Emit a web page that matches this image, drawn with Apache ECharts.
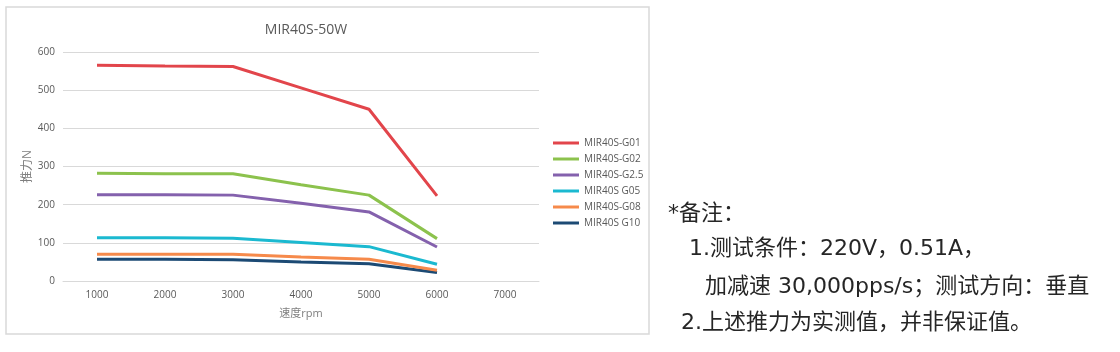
<!DOCTYPE html>
<html>
<head>
<meta charset="utf-8">
<script src="https://cdn.jsdelivr.net/npm/echarts@6/dist/echarts.min.js"></script>
<style>
  html, body { margin: 0; padding: 0; background: #fff; }
  #chart { width: 1120px; height: 352px; }
</style>
</head>
<body>
<div id="chart"></div>
<script>
// 速度 (rpm)
var speeds = ['1000', '2000', '3000', '4000', '5000', '6000', '7000']
var seriesNames = ['MIR40S-G01', 'MIR40S-G02', 'MIR40S-G2.5', 'MIR40S G05', 'MIR40S-G08', 'MIR40S G10']
// 推力 (N)
var g01 = [565, 563, 562, 506, 450, 223, null]
var g02 = [282, 281, 281, 252, 225, 111, null]
var g25 = [226, 226, 225, 204, 181, 89, null]
var g05 = [113, 113, 112, 101, 90, 44, null]
var g08 = [70, 70, 70, 63, 57, 28, null]
var g10 = [57, 57, 56, 50, 45, 22, null]
var yTicks = [0, 100, 200, 300, 400, 500, 600]
var notes = [
  '*备注：',
  '1.测试条件：220V，0.51A，',
  '加减速 30,000pps/s；测试方向：垂直',
  '2.上述推力为实测值，并非保证值。'
]

var colors = ['#e2454b', '#8cc24d', '#8461ad', '#1bb9d0', '#f68a4b', '#1c4a74']
var font = '"Open Sans", "Noto Sans CJK SC", sans-serif'
var noteFont = '22px "DejaVu Sans", "Noto Sans CJK SC", sans-serif'

var chart = echarts.init(document.getElementById('chart'))

function line(name, data, i) {
  return {
    name: name,
    type: 'line',
    data: data,
    symbol: 'none',
    smooth: false,
    z: 10 - i,
    lineStyle: { width: 3, color: colors[i] },
    itemStyle: { color: colors[i] }
  }
}

function note(text, x, y) {
  return {
    type: 'text',
    x: x,
    y: y,
    style: { text: text, font: noteFont, fill: '#262626', verticalAlign: 'middle' }
  }
}

chart.setOption({
  animation: false,
  title: {
    text: 'MIR40S-50W',
    left: 301,
    textAlign: 'center',
    top: 18,
    textStyle: { fontSize: 14, fontWeight: 'normal', color: '#595959', fontFamily: font }
  },
  grid: { left: 63, right: 581, top: 52, bottom: 71 },
  legend: {
    orient: 'vertical',
    left: 548,
    top: 132,
    icon: 'rect',
    itemWidth: 26,
    itemHeight: 3,
    itemGap: 4,
    data: seriesNames,
    textStyle: { fontSize: 10, color: '#595959', fontFamily: font, lineHeight: 12 }
  },
  xAxis: {
    type: 'category',
    data: speeds,
    boundaryGap: true,
    name: '速度rpm',
    nameLocation: 'middle',
    nameGap: 27,
    nameTextStyle: { fontSize: 11, color: '#7f7f7f', fontFamily: font },
    axisLine: { lineStyle: { color: '#d9d9d9', width: 1 } },
    axisTick: { show: false },
    axisLabel: { fontSize: 10, color: '#595959', margin: 9, fontFamily: font }
  },
  yAxis: {
    type: 'value',
    min: yTicks[0],
    max: yTicks[yTicks.length - 1],
    interval: 100,
    name: '推力N',
    nameLocation: 'middle',
    nameRotate: 90,
    nameGap: 28,
    nameTextStyle: { fontSize: 12, color: '#7f7f7f', fontFamily: font },
    axisLine: { show: false },
    axisTick: { show: false },
    axisLabel: { fontSize: 10, color: '#595959', margin: 8, fontFamily: font },
    splitLine: { lineStyle: { color: '#d9d9d9', width: 1 } }
  },
  graphic: [
    {
      type: 'rect',
      shape: { x: 6, y: 7, width: 643, height: 327 },
      style: { fill: 'none', stroke: '#d9d9d9', lineWidth: 1.5 },
      silent: true
    },
    note(notes[0], 668, 214),
    note(notes[1], 689, 249),
    note(notes[2], 705, 287),
    note(notes[3], 681, 323)
  ],
  series: [
    line(seriesNames[0], g01, 0),
    line(seriesNames[1], g02, 1),
    line(seriesNames[2], g25, 2),
    line(seriesNames[3], g05, 3),
    line(seriesNames[4], g08, 4),
    line(seriesNames[5], g10, 5)
  ]
})
</script>
</body>
</html>
